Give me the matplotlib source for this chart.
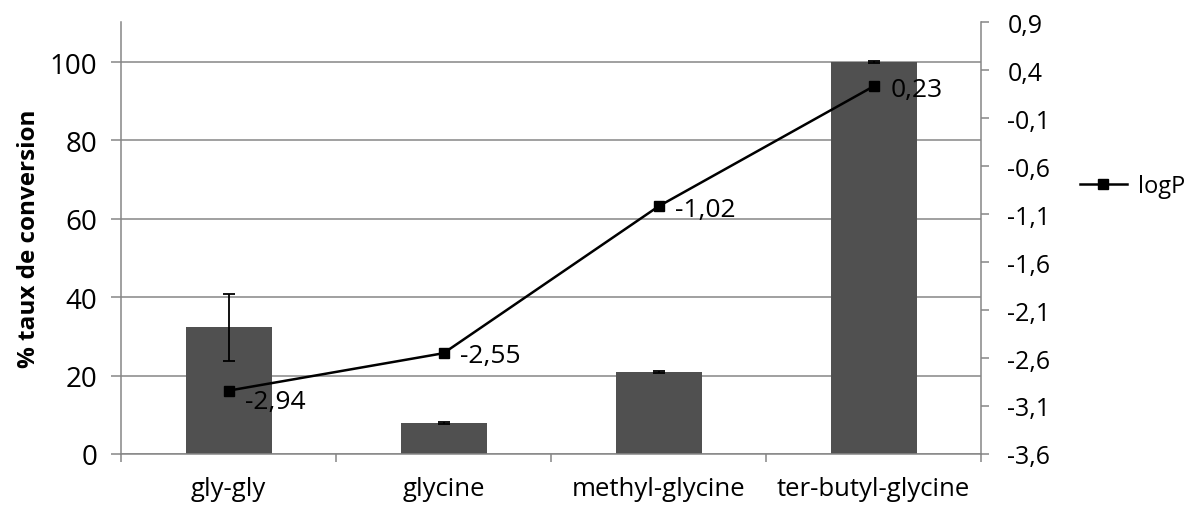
import numpy as np
import matplotlib
matplotlib.use("Agg")
import matplotlib.pyplot as plt

# donnees
categories = ["gly-gly", "glycine", "methyl-glycine", "ter-butyl-glycine"]
conversion = [32.3, 7.9, 20.9, 100.0]
conversion_err = [8.6, 0.3, 0.15, 0.3]
logp = [-2.94, -2.55, -1.02, 0.23]
logp_labels = ["-2,94", "-2,55", "-1,02", "0,23"]
left_ticks = [0, 20, 40, 60, 80, 100]
right_ticks = [-3.6, -3.1, -2.6, -2.1, -1.6, -1.1, -0.6, -0.1, 0.4, 0.9]

plt.rcParams['font.family'] = ['Open Sans', 'DejaVu Sans']
grid_col = "#868686"

fig = plt.figure(figsize=(11.89, 5.06), dpi=100)
ax = fig.add_axes([0.1018, 0.1008, 0.7233, 0.8537])
x = np.arange(len(categories))

ax.bar(x, conversion, width=0.4, color="#505050", zorder=2)
ax.errorbar(x, conversion, yerr=conversion_err, fmt="none", ecolor="black",
            elinewidth=1.3, capsize=4.5, capthick=1.3, zorder=3)
ax.set_xlim(-0.5, len(categories) - 0.5)
ax.set_ylim(0, 110.2)
ax.set_yticks(left_ticks)
ax.yaxis.grid(True, color=grid_col, linewidth=1.1, zorder=0)
ax.set_axisbelow(True)
ax.set_xticks(x)
ax.set_xticklabels(categories, fontsize=18.5)
ax.set_xticks(np.arange(-0.5, len(categories), 1.0), minor=True)
ax.tick_params(axis="x", which="major", length=0, pad=16)
ax.tick_params(axis="x", which="minor", length=6, width=1.1, color=grid_col)
ax.tick_params(axis="y", labelsize=20, length=7, width=1.1, color=grid_col, pad=10)
ax.set_ylabel("% taux de conversion", fontsize=17.5, fontweight="bold", labelpad=6)
for s in ["top", "right"]:
    ax.spines[s].set_visible(False)
for s in ["left", "bottom"]:
    ax.spines[s].set_color(grid_col)
    ax.spines[s].set_linewidth(1.1)

ax2 = ax.twinx()
ax2.plot(x, logp, color="black", linewidth=1.8, marker="s", markersize=6.5,
         label="logP", zorder=4)
for xi, yi, lab in zip(x, logp, logp_labels):
    dy = -8 if xi == 0 else -2
    ax2.annotate(lab, (xi, yi), xytext=(12, dy), textcoords="offset points",
                 ha="left", va="center", fontsize=19)
ax2.set_ylim(-3.6, 0.9)
ax2.set_yticks(right_ticks)
ax2.set_yticklabels([("%.1f" % t).replace(".", ",") for t in right_ticks])
ax2.tick_params(axis="y", labelsize=18, length=6, width=1.1, color=grid_col, pad=13)
for s in ["top", "left", "bottom"]:
    ax2.spines[s].set_visible(False)
ax2.spines["right"].set_color(grid_col)
ax2.spines["right"].set_linewidth(1.1)

ax2.legend(loc="center left", bbox_to_anchor=(1.09, 0.62), frameon=False,
           fontsize=17, handlelength=2.0, handletextpad=0.45)

fig.savefig("out.png", dpi=100)
